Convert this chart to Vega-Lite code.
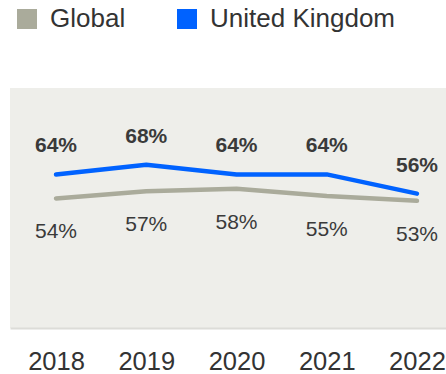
{
  "$schema": "https://vega.github.io/schema/vega-lite/v6.json",
  "autosize": {"type": "none"},
  "padding": {"left": 10, "top": 88, "right": 0, "bottom": 60},
  "width": 453,
  "height": 240,
  "config": {
    "view": {"fill": "#eeeeea", "stroke": null},
    "font": "Liberation Sans"
  },
  "data": {
    "values": [
      {"year": "2018", "series": "Global", "value": 0.54},
      {"year": "2019", "series": "Global", "value": 0.57},
      {"year": "2020", "series": "Global", "value": 0.58},
      {"year": "2021", "series": "Global", "value": 0.55},
      {"year": "2022", "series": "Global", "value": 0.53},
      {"year": "2018", "series": "United Kingdom", "value": 0.64},
      {"year": "2019", "series": "United Kingdom", "value": 0.68},
      {"year": "2020", "series": "United Kingdom", "value": 0.64},
      {"year": "2021", "series": "United Kingdom", "value": 0.64},
      {"year": "2022", "series": "United Kingdom", "value": 0.56}
    ]
  },
  "encoding": {
    "x": {
      "field": "year",
      "type": "ordinal",
      "scale": {"type": "point", "padding": 0.51},
      "axis": {
        "title": null,
        "ticks": false,
        "tickSize": 0,
        "grid": false,
        "labelAngle": 0,
        "labelFontSize": 25.5,
        "labelColor": "#333333",
        "labelPadding": 21,
        "domainColor": "#dcdcd8",
        "domainWidth": 2
      }
    },
    "y": {
      "field": "value",
      "type": "quantitative",
      "scale": {"domain": [0, 1]},
      "axis": null
    }
  },
  "layer": [
    {
      "mark": {"type": "line", "strokeWidth": 4.5, "strokeCap": "round", "strokeJoin": "round"},
      "encoding": {
        "color": {
          "field": "series",
          "type": "nominal",
          "scale": {"domain": ["Global", "United Kingdom"], "range": ["#aaab9b", "#0062ff"]},
          "legend": {
            "orient": "none",
            "legendX": 4,
            "legendY": -82,
            "direction": "horizontal",
            "title": null,
            "padding": 0,
            "symbolType": "square",
            "symbolSize": 400,
            "symbolStrokeWidth": 0,
            "labelFontSize": 26,
            "labelColor": "#333333",
            "labelOffset": 10,
            "columnPadding": 48,
            "labelLimit": 400,
            "encode": {
              "symbols": {"update": {"fill": {"scale": "color", "field": "value"}, "fillOpacity": {"value": 1}}}
            }
          }
        }
      }
    },
    {
      "transform": [{"filter": "datum.series === 'United Kingdom'"}],
      "mark": {"type": "text", "fontSize": 21, "fontWeight": "bold", "baseline": "alphabetic", "dy": -22, "color": "#3a3a3a"},
      "encoding": {"text": {"field": "value", "type": "quantitative", "format": ".0%"}}
    },
    {
      "transform": [{"filter": "datum.series === 'Global'"}],
      "mark": {"type": "text", "fontSize": 21, "baseline": "top", "dy": 23, "color": "#3a3a3a"},
      "encoding": {"text": {"field": "value", "type": "quantitative", "format": ".0%"}}
    }
  ]
}
